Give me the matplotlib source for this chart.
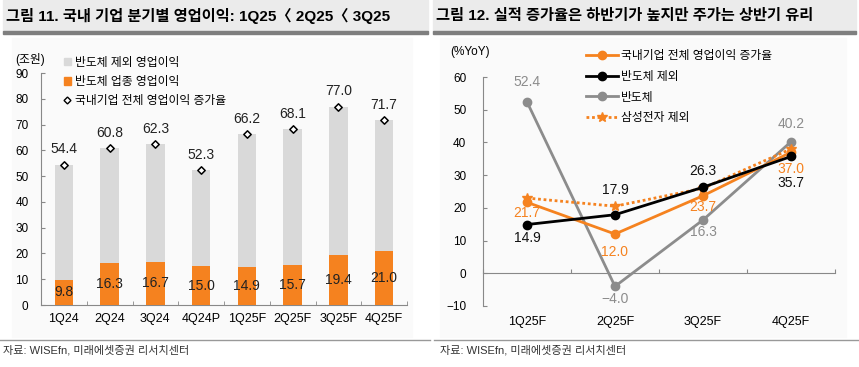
import matplotlib.pyplot as plt
from matplotlib.patches import Rectangle, Patch
from matplotlib.lines import Line2D
import matplotlib.transforms as mtransforms

plt.rcParams['font.family'] = ['Liberation Sans', 'Noto Sans CJK KR', 'DejaVu Sans']

# left chart data (조원)
quarters = ["1Q24", "2Q24", "3Q24", "4Q24P", "1Q25F", "2Q25F", "3Q25F", "4Q25F"]
total_op = [54.4, 60.8, 62.3, 52.3, 66.2, 68.1, 77.0, 71.7]
semi_op = [9.8, 16.3, 16.7, 15.0, 14.9, 15.7, 19.4, 21.0]

# right chart data (%YoY)
quarters_25 = ["1Q25F", "2Q25F", "3Q25F", "4Q25F"]
growth_total = [21.7, 12.0, 23.7, 37.0]
growth_ex_semi = [14.9, 17.9, 26.3, 35.7]
growth_semi = [52.4, -4.0, 16.3, 40.2]
growth_ex_samsung = [23.0, 20.5, 26.0, 38.0]

ORANGE = "#f5821f"
LGRAY = "#d9d9d9"
DGRAY = "#8c8c8c"

W, H = 859, 367
fig = plt.figure(figsize=(W / 100, H / 100), dpi=100)


def px(x, y):
    return x / W, 1 - y / H


# title bars, panels and separators
for x0, x1, title in [(3, 428, "그림 11. 국내 기업 분기별 영업이익: 1Q25〈 2Q25〈 3Q25"),
                      (433, 856, "그림 12. 실적 증가율은 하반기가 높지만 주가는 상반기 유리")]:
    fig.patches.append(Rectangle(px(x0, 31), (x1 - x0) / W, 31 / H, transform=fig.transFigure,
                                 color="#ebebeb", zorder=-2))
    fig.patches.append(Rectangle(px(x0, 34), (x1 - x0) / W, 3 / H, transform=fig.transFigure,
                                 color="#7f7f7f", zorder=-2))
    fig.text((x0 + 3) / W, 1 - 16 / H, title, fontsize=11, fontweight="bold", va="center", ha="left")

for x0, x1 in [(12, 412), (440, 846)]:
    fig.patches.append(Rectangle(px(x0, 337), (x1 - x0) / W, 299 / H, transform=fig.transFigure,
                                 color="#fafafa", zorder=-2))

fig.add_artist(Line2D([0, 430 / W], [1 - 339.5 / H] * 2, color="#999999", lw=1))
fig.add_artist(Line2D([434 / W, 1], [1 - 339.5 / H] * 2, color="#999999", lw=1))
fig.text(3 / W, 1 - 350 / H, "자료: WISEfn, 미래에셋증권 리서치센터", fontsize=8, va="center", color="#333333")
fig.text(440 / W, 1 - 350 / H, "자료: WISEfn, 미래에셋증권 리서치센터", fontsize=8, va="center", color="#333333")

# ---------------- left chart ----------------
ax1 = fig.add_axes([41 / W, 1 - 305 / H, 366 / W, 232 / H])
ax1.patch.set_alpha(0)
xs = range(len(quarters))
ax1.bar(xs, total_op, width=0.4, color=LGRAY, zorder=2)
ax1.bar(xs, semi_op, width=0.4, color=ORANGE, zorder=3)
ax1.scatter(xs, total_op, marker="D", s=14, facecolor="white", edgecolor="black", linewidth=1.1, zorder=4)
for i, (t, s) in enumerate(zip(total_op, semi_op)):
    ax1.annotate(f"{t:.1f}", (i, t), xytext=(0, 6), textcoords="offset points",
                 ha="center", va="bottom", fontsize=10, color="#222222")
    ax1.text(i, s / 2, f"{s:.1f}", ha="center", va="center", fontsize=10, color="#222222", zorder=5)

ax1.set_xlim(-0.5, 7.5)
ax1.set_ylim(0, 90)
ax1.set_yticks(range(0, 91, 10))
ax1.set_xticks(list(xs))
ax1.set_xticklabels(quarters)
ax1.set_xticks([i + 0.5 for i in range(-1, 8)], minor=True)
for sp in ["top", "right"]:
    ax1.spines[sp].set_visible(False)
for sp in ["left", "bottom"]:
    ax1.spines[sp].set_color("#888888")
ax1.tick_params(axis="x", which="major", length=0, labelsize=9, pad=6)
ax1.tick_params(axis="x", which="minor", length=3, direction="in", color="#888888")
ax1.tick_params(axis="y", length=3, direction="in", color="#888888", labelsize=8.5, pad=9)
fig.text(30 / W, 1 - 60 / H, "(조원)", fontsize=8.5, ha="center", va="center")

h1 = [Patch(color=LGRAY), Patch(color=ORANGE),
      Line2D([], [], marker="D", ls="none", markersize=3.5, markerfacecolor="white",
             markeredgecolor="black", markeredgewidth=1)]
fig.legend(h1, ["반도체 제외 영업이익", "반도체 업종 영업이익", "국내기업 전체 영업이익 증가율"],
           loc="upper left", bbox_to_anchor=(58 / W, 1 - 51 / H), frameon=False, fontsize=8.5,
           handlelength=0.6, handleheight=0.6, handletextpad=0.3, labelspacing=0.6, borderpad=0)

# ---------------- right chart ----------------
ax2 = fig.add_axes([483 / W, 1 - 306 / H, 352 / W, 229 / H])
ax2.patch.set_alpha(0)
xr = range(len(quarters_25))
ax2.plot(xr, growth_semi, color=DGRAY, lw=2, marker="o", ms=6, zorder=3, label="반도체")
ax2.plot(xr, growth_ex_samsung, color=ORANGE, lw=2, ls=(0, (1, 1)), marker="*", ms=7, zorder=4,
         label="삼성전자 제외")
ax2.plot(xr, growth_total, color=ORANGE, lw=2, marker="o", ms=6, zorder=5,
         label="국내기업 전체 영업이익 증가율")
ax2.plot(xr, growth_ex_semi, color="black", lw=2, marker="o", ms=6, zorder=6, label="반도체 제외")

label_sets = [
    (growth_semi, DGRAY, [14, -9, -9, 13]),
    (growth_total, ORANGE, [-8, -13, -8, -12]),
    (growth_ex_semi, "#111111", [-10, 18, 12, -19]),
]
for vals, col, offs in label_sets:
    for i, (v, o) in enumerate(zip(vals, offs)):
        ax2.annotate(f"{v:.1f}".replace("-", "\u2212"), (i, v), xytext=(0, o), textcoords="offset points",
                     ha="center", va="center", fontsize=10, color=col, zorder=7)

ax2.set_xlim(-0.5, 3.5)
ax2.set_ylim(-10, 60)
ax2.set_yticks(range(-10, 61, 10))
ax2.set_yticklabels([str(v).replace("-", "\u2212") for v in range(-10, 61, 10)])
ax2.set_xticks([i + 0.5 for i in range(-1, 4)])
ax2.set_xticklabels([])
ax2.spines["bottom"].set_position(("data", 0))
for sp in ["top", "right"]:
    ax2.spines[sp].set_visible(False)
for sp in ["left", "bottom"]:
    ax2.spines[sp].set_color("#888888")
ax2.tick_params(axis="x", length=3, direction="in", color="#888888")
ax2.tick_params(axis="y", length=3, direction="in", color="#888888", labelsize=8.5, pad=12)
blend = mtransforms.blended_transform_factory(ax2.transData, ax2.transAxes)
for i, q in enumerate(quarters_25):
    ax2.text(i, -0.07, q, transform=blend, ha="center", va="center", fontsize=9)
fig.text(470 / W, 1 - 52 / H, "(%YoY)", fontsize=8.5, ha="center", va="center")

h2, l2 = ax2.get_legend_handles_labels()
order = [2, 3, 0, 1]
fig.legend([h2[k] for k in order], [l2[k] for k in order], loc="upper left",
           bbox_to_anchor=(580 / W, 1 - 44 / H), frameon=False, fontsize=8.5,
           handlelength=2.7, handletextpad=0.3, labelspacing=0.75, borderpad=0)

fig.savefig("out.png", dpi=100)
